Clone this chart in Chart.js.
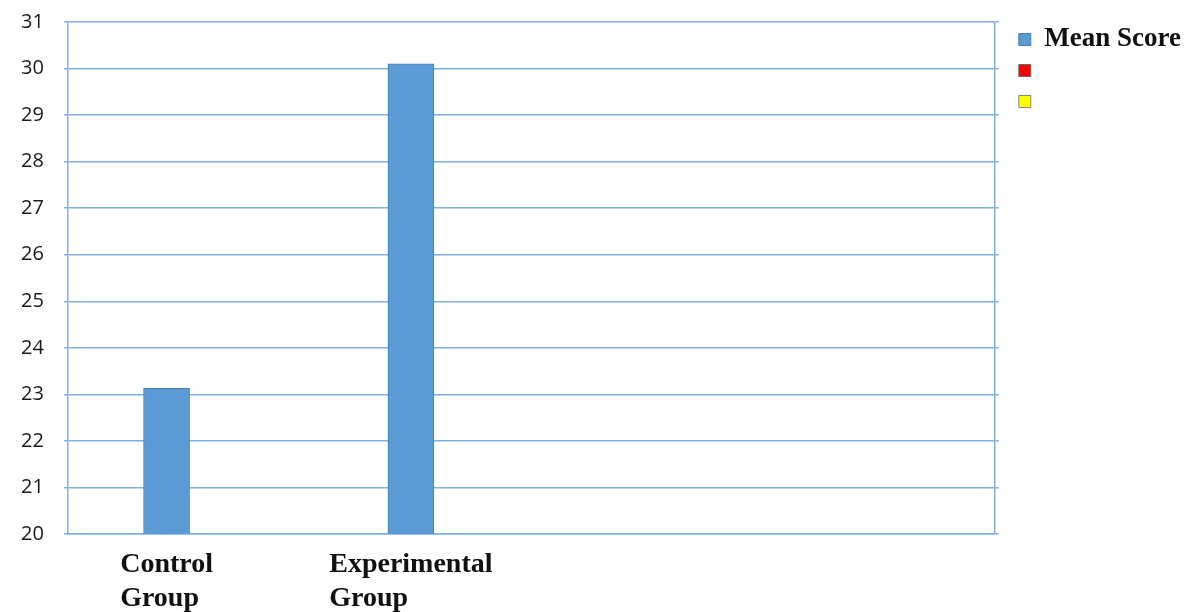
<!DOCTYPE html>
<html>
<head>
<meta charset="utf-8">
<script src="https://cdn.jsdelivr.net/npm/chart.js@4.4.1/dist/chart.umd.min.js"></script>
<style>
  html, body { margin: 0; padding: 0; background: #ffffff; }
  #wrap { width: 1199px; height: 612px; }
</style>
</head>
<body>
<div id="wrap"><canvas id="chart" width="1199" height="612"></canvas></div>
<script>
// Groups compared and their mean scores
const categories = [['Control', 'Group'], ['Experimental', 'Group']];
const meanScores = [23.13, 30.1];
// Y axis range and step
const yTicks = { min: 20, max: 31, step: 1 };
const legendLabels = ['Mean Score', '', ''];

const gridBlue = '#7fb0e0';

// Bar positions along a numeric axis: group n sits at x = n
const meanPoints = meanScores.map((v, i) => ({ x: i + 1, y: v }));

// Draws the two-line group names under each bar
const groupLabels = {
  id: 'groupLabels',
  afterDraw(chart) {
    const ctx = chart.ctx;
    const xs = chart.scales.x;
    const bottom = chart.chartArea.bottom;
    ctx.save();
    ctx.font = 'bold 28px "Liberation Serif", "Times New Roman", serif';
    ctx.fillStyle = '#111111';
    ctx.textBaseline = 'middle';
    ctx.textAlign = 'left';
    categories.forEach((lines, i) => {
      const cx = xs.getPixelForValue(i + 1);
      const left = cx - ctx.measureText(lines[0]).width / 2;
      lines.forEach((line, k) => {
        ctx.fillText(line, left, bottom + 31 + k * 34);
      });
    });
    ctx.restore();
  }
};

new Chart(document.getElementById('chart'), {
  type: 'bar',
  data: {
    datasets: [
      {
        label: legendLabels[0],
        data: meanPoints,
        backgroundColor: '#5b9bd5',
        borderColor: '#4a7fb3',
        borderWidth: 1,
        barThickness: 46,
        grouped: false
      },
      {
        label: legendLabels[1],
        data: [],
        backgroundColor: '#ff0000',
        borderColor: '#6b6b6b',
        borderWidth: 1,
        grouped: false
      },
      {
        label: legendLabels[2],
        data: [],
        backgroundColor: '#ffff00',
        borderColor: '#8a8a6a',
        borderWidth: 1,
        grouped: false
      }
    ]
  },
  options: {
    responsive: false,
    animation: false,
    layout: { padding: { top: 0, left: 1, bottom: 70, right: 8 } },
    plugins: {
      tooltip: { enabled: false },
      legend: {
        position: 'right',
        align: 'start',
        fullSize: false,
        labels: {
          boxWidth: 12,
          boxHeight: 12,
          padding: 4,
          color: '#111111',
          font: { family: '"Liberation Serif", "Times New Roman", serif', size: 27, weight: 'bold' }
        }
      }
    },
    scales: {
      x: {
        type: 'linear',
        offset: false,
        min: 0.596,
        max: 4.39,
        ticks: { display: false },
        grid: { display: false },
        border: { display: true, color: gridBlue, width: 1.5 }
      },
      y: {
        min: yTicks.min,
        max: yTicks.max,
        ticks: {
          stepSize: yTicks.step,
          color: '#1a1a1a',
          padding: 20,
          font: { family: '"Open Sans", sans-serif', size: 20 }
        },
        grid: { color: gridBlue, lineWidth: 1.5, tickLength: 4 },
        border: { display: true, color: gridBlue, width: 1.5 },
        afterFit(scale) { scale.paddingTop = 22; }
      },
      yRight: {
        position: 'right',
        min: yTicks.min,
        max: yTicks.max,
        ticks: { display: false, stepSize: yTicks.step },
        grid: { drawOnChartArea: false, color: gridBlue, lineWidth: 1.5, tickLength: 4 },
        border: { display: true, color: gridBlue, width: 1.5 },
        afterFit(scale) { scale.width = 20; }
      }
    }
  },
  plugins: [groupLabels]
});
</script>
</body>
</html>
